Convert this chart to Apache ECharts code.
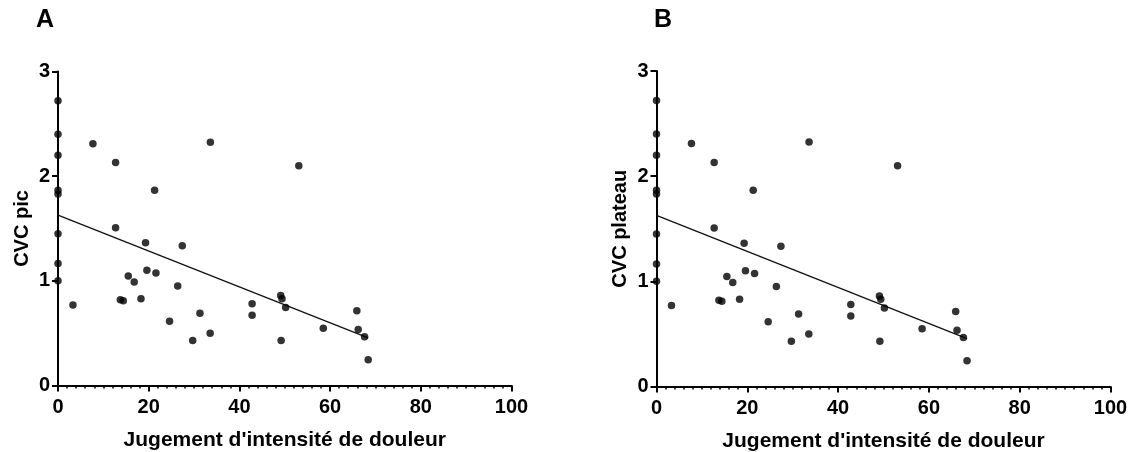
<!DOCTYPE html>
<html>
<head>
<meta charset="utf-8">
<script src="https://cdn.jsdelivr.net/npm/echarts@6/dist/echarts.min.js"></script>
<style>
html,body{margin:0;padding:0;background:#fff;}
#chart{width:1136px;height:452px;}
</style>
</head>
<body>
<div id="chart"></div>
<script>
// Pain intensity judgement (x) for each subject
const painX = [0,0,0,0,0,0,0,0,7.7,12.7,33.6,21.3,12.7,19.3,27.4,19.6,21.6,15.5,16.8,26.4,3.3,13.75,14.4,18.3,31.3,24.6,33.55,29.7,53.1,42.8,42.8,49.1,49.4,50.2,49.2,58.5,65.9,66.2,67.6,68.4];
// CVC peak (panel A)
const cvcPic = [2.72,2.40,2.20,1.866,1.83,1.45,1.166,1.00,2.31,2.13,2.325,1.866,1.506,1.363,1.334,1.10,1.074,1.045,0.99,0.95,0.77,0.82,0.81,0.83,0.69,0.615,0.50,0.43,2.10,0.78,0.67,0.86,0.83,0.746,0.43,0.548,0.713,0.536,0.465,0.245];
// CVC plateau (panel B)
const cvcPlateau = [2.72,2.40,2.20,1.866,1.83,1.45,1.166,1.00,2.31,2.13,2.325,1.866,1.506,1.363,1.334,1.10,1.074,1.045,0.99,0.95,0.77,0.82,0.81,0.83,0.69,0.615,0.50,0.43,2.10,0.78,0.67,0.86,0.83,0.746,0.43,0.548,0.713,0.536,0.465,0.245];
// Regression line end points
const fitA = [[0,1.627],[68.4,0.456]];
const fitB = [[0,1.627],[68.4,0.456]];
const xTicks = [0,20,40,60,80,100];
const yTicks = [0,1,2,3];
const panelLabels = ['A','B'];
const yTitles = ['CVC pic','CVC plateau'];
const xTitle = "Jugement d'intensité de douleur";

const FONT = '"Liberation Sans", Arial, sans-serif';
const chart = echarts.init(document.getElementById('chart'), null, {renderer:'canvas'});

function xAxisCfg(i){
  return {
    type:'value', gridIndex:i, min:xTicks[0], max:xTicks[xTicks.length-1], interval:20,
    name:xTitle, nameLocation:'middle', nameGap:44,
    nameTextStyle:{fontFamily:FONT,fontWeight:'bold',fontSize:21,color:'#000'},
    axisLine:{show:true,onZero:false,lineStyle:{color:'#000',width:2}},
    axisTick:{show:true,length:6,lineStyle:{color:'#000',width:2}},
    minorTick:{show:true,splitNumber:10,length:3,lineStyle:{color:'#000',width:1.5}},
    axisLabel:{fontFamily:FONT,fontWeight:'bold',fontSize:20,color:'#000',margin:12},
    splitLine:{show:false}
  };
}
function yAxisCfg(i){
  return {
    type:'value', gridIndex:i, min:yTicks[0], max:yTicks[yTicks.length-1], interval:1,
    name:yTitles[i], nameLocation:'middle', nameGap:26,
    nameTextStyle:{fontFamily:FONT,fontWeight:'bold',fontSize:20,color:'#000'},
    axisLine:{show:true,onZero:false,lineStyle:{color:'#000',width:2}},
    axisTick:{show:true,length:6,lineStyle:{color:'#000',width:2}},
    axisLabel:{fontFamily:FONT,fontWeight:'bold',fontSize:20,color:'#000',margin:8},
    splitLine:{show:false}
  };
}
function pts(xs,ys){ return xs.map((x,i)=>[x,ys[i]]); }

chart.setOption({
  animation:false,
  backgroundColor:'#fff',
  title:[
    {text:panelLabels[0],left:31,top:3,textStyle:{fontFamily:FONT,fontWeight:'bold',fontSize:25,color:'#000'}},
    {text:panelLabels[1],left:649,top:3,textStyle:{fontFamily:FONT,fontWeight:'bold',fontSize:25,color:'#000'}}
  ],
  grid:[
    {left:58,right:624.5,top:71.5,bottom:66.5,containLabel:false,outerBoundsMode:'none'},
    {left:656.5,right:25.5,top:71,bottom:65.5,containLabel:false,outerBoundsMode:'none'}
  ],
  xAxis:[xAxisCfg(0),xAxisCfg(1)],
  yAxis:[yAxisCfg(0),yAxisCfg(1)],
  series:[
    {type:'scatter',xAxisIndex:0,yAxisIndex:0,data:pts(painX,cvcPic),symbolSize:7.5,clip:false,
     itemStyle:{color:'#000'},z:5},
    {type:'line',xAxisIndex:0,yAxisIndex:0,data:fitA,symbol:'none',
     lineStyle:{color:'#111',width:1.3},z:4},
    {type:'scatter',xAxisIndex:1,yAxisIndex:1,data:pts(painX,cvcPlateau),symbolSize:7.5,clip:false,
     itemStyle:{color:'#000'},z:5},
    {type:'line',xAxisIndex:1,yAxisIndex:1,data:fitB,symbol:'none',
     lineStyle:{color:'#111',width:1.3},z:4}
  ]
});
</script>
</body>
</html>
